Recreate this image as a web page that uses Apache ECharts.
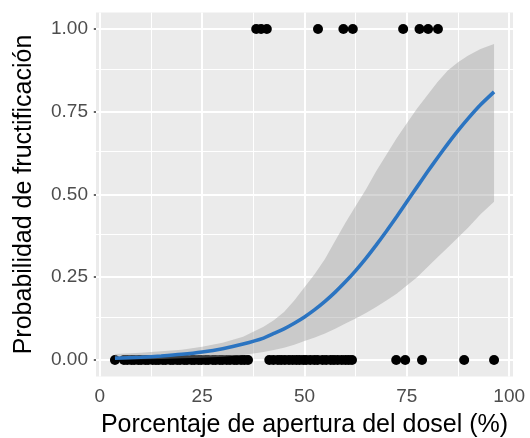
<!DOCTYPE html>
<html>
<head>
<meta charset="utf-8">
<script src="https://cdn.jsdelivr.net/npm/echarts@6/dist/echarts.min.js"></script>
<style>html,body{margin:0;padding:0;background:#fff}#c{width:530px;height:438px}</style>
</head>
<body>
<div id="c"></div>
<script>
// ---- data ----
const xTicks = [0, 25, 50, 75, 100];
const yTicks = [0, 0.25, 0.5, 0.75, 1.0];
const xZero = [3.7, 5.9, 6.7, 7.7, 8.4, 9.4, 10.1, 11.1, 11.8, 12.9, 13.7, 14.4, 15.4, 16.1, 17.2, 17.9, 18.9, 19.6, 20.6, 21.3, 22.4, 23.1, 24.1, 24.8, 25.8, 26.5, 27.6, 28.3, 29.3, 30.0, 31.0, 31.8, 32.8, 33.5, 34.5, 35.3, 36.2, 41.4, 42.4, 43.5, 44.3, 45.2, 46.2, 47.1, 48.0, 48.8, 49.7, 50.4, 51.4, 52.4, 53.2, 54.4, 55.3, 56.4, 57.2, 58.1, 59.1, 60.0, 60.8, 61.6, 72.4, 74.6, 78.7, 89.0, 96.3];
const xOne = [38.2, 39.4, 40.8, 53.3, 59.5, 61.8, 74.1, 78.1, 80.2, 82.6];
const fitX = [3.7, 10, 15, 20, 25, 30, 35, 40, 42.5, 45, 47.5, 50, 52.5, 55, 57.5, 60, 62.5, 65, 67.5, 70, 72.5, 75, 77.5, 80, 82.5, 85, 87.5, 90, 93, 96.3];
const fitY = [0.005, 0.008, 0.012, 0.017, 0.024, 0.034, 0.048, 0.066, 0.08, 0.094, 0.111, 0.13, 0.152, 0.177, 0.205, 0.236, 0.27, 0.307, 0.347, 0.389, 0.433, 0.478, 0.523, 0.568, 0.611, 0.653, 0.693, 0.73, 0.771, 0.81];
const fitUpper = [0.018, 0.022, 0.026, 0.031, 0.04, 0.052, 0.07, 0.1, 0.12, 0.145, 0.18, 0.22, 0.26, 0.305, 0.36, 0.415, 0.465, 0.515, 0.57, 0.62, 0.67, 0.715, 0.76, 0.8, 0.84, 0.875, 0.9, 0.92, 0.94, 0.955];
const fitLower = [0.001, 0.002, 0.003, 0.005, 0.007, 0.01, 0.015, 0.024, 0.03, 0.037, 0.046, 0.057, 0.068, 0.08, 0.094, 0.11, 0.125, 0.142, 0.16, 0.18, 0.2, 0.225, 0.25, 0.28, 0.31, 0.34, 0.37, 0.4, 0.44, 0.478];

// ---- helpers ----
function mids(t){const m=[];for(let i=0;i<t.length-1;i++)m.push((t[i]+t[i+1])/2);return m;}
const FONT = '"Liberation Sans", Arial, sans-serif';
const gridLines = [];
xTicks.forEach(v=>gridLines.push({xAxis:v,lineStyle:{color:'#ffffff',width:2,type:'solid'}}));
mids(xTicks).forEach(v=>gridLines.push({xAxis:v,lineStyle:{color:'#ffffff',width:1,type:'solid'}}));
yTicks.forEach(v=>gridLines.push({yAxis:v,lineStyle:{color:'#ffffff',width:2,type:'solid'}}));
mids(yTicks).forEach(v=>gridLines.push({yAxis:v,lineStyle:{color:'#ffffff',width:1,type:'solid'}}));

const chart = echarts.init(document.getElementById('c'), null, {renderer:'canvas'});
chart.setOption({
  animation:false,
  backgroundColor:'#ffffff',
  grid:{left:96,right:17,top:12.5,bottom:61.5,show:true,backgroundColor:'#EBEBEB',borderWidth:0,
        containLabel:false,outerBoundsMode:'none'},
  xAxis:{
    type:'value', min:-0.93, max:100.93,
    axisLine:{show:false},
    axisTick:{show:true,length:6,lineStyle:{color:'#333333',width:1.5},customValues:xTicks},
    axisLabel:{customValues:xTicks,color:'#4D4D4D',fontSize:19,fontFamily:FONT,margin:11,formatter:v=>String(v)},
    splitLine:{show:false},
    name:'Porcentaje de apertura del dosel (%)', nameLocation:'middle', nameGap:36,
    nameTextStyle:{color:'#000',fontSize:25,fontFamily:FONT}
  },
  yAxis:{
    type:'value', min:-0.05, max:1.05,
    axisLine:{show:false},
    axisTick:{show:true,length:6,lineStyle:{color:'#333333',width:1.5},customValues:yTicks},
    axisLabel:{customValues:yTicks,color:'#4D4D4D',fontSize:19,fontFamily:FONT,margin:8,formatter:v=>v.toFixed(2)},
    splitLine:{show:false},
    name:'Probabilidad de fructificación', nameLocation:'middle', nameGap:59,
    nameTextStyle:{color:'#000',fontSize:25,fontFamily:FONT}
  },
  series:[
    {type:'scatter',data:[],z:1,silent:true,
     markLine:{z:1,silent:true,symbol:'none',label:{show:false},data:gridLines,animation:false}},
    {type:'scatter',z:10,symbol:'circle',symbolSize:10,itemStyle:{color:'#000000',opacity:1},
     data:xZero.map(x=>[x,0]).concat(xOne.map(x=>[x,1])),clip:false},
    {type:'custom',z:11,silent:true,data:[0],
     renderItem:function(params,api){
       const pts=[];
       for(let i=0;i<fitX.length;i++)pts.push(api.coord([fitX[i],fitUpper[i]]));
       for(let i=fitX.length-1;i>=0;i--)pts.push(api.coord([fitX[i],fitLower[i]]));
       return {type:'polygon',shape:{points:pts},style:{fill:'rgba(153,153,153,0.4)',stroke:null}};
     }},
    {type:'line',z:12,showSymbol:false,smooth:0.2,
     lineStyle:{color:'#2B74C1',width:3.6},
     data:fitX.map((x,i)=>[x,fitY[i]])}
  ]
});
</script>
</body>
</html>
